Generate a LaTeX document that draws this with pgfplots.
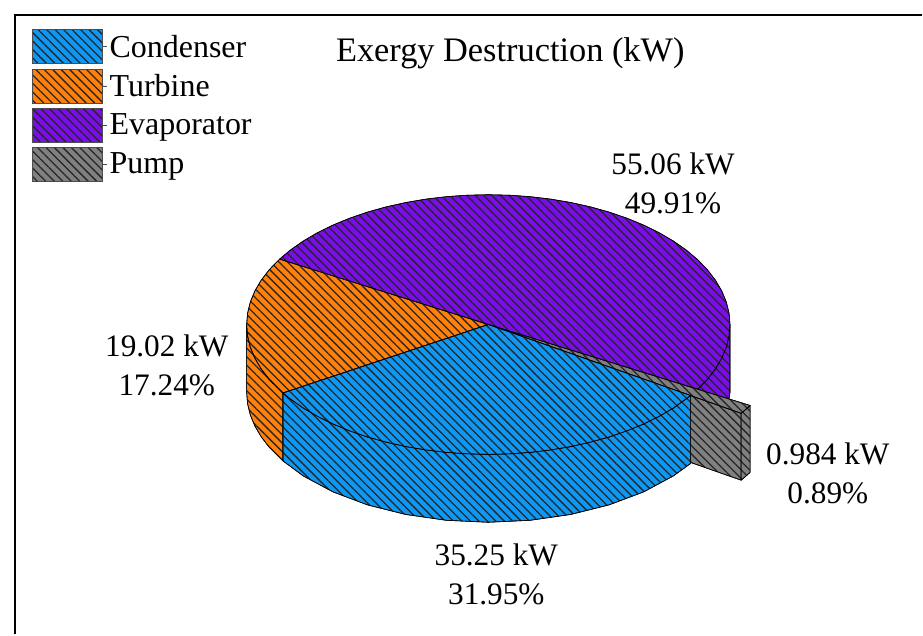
\documentclass[border=0pt]{standalone}
\usepackage{pgfplots}
\pgfplotsset{compat=1.18}
\usepackage{fontspec}
\setmainfont{Liberation Serif}
\usetikzlibrary{patterns.meta}

\definecolor{condenser}{RGB}{14,152,245}
\definecolor{turbine}{RGB}{255,128,10}
\definecolor{evaporator}{RGB}{122,14,232}
\definecolor{pump}{RGB}{128,128,128}

% Oblique projection of the disc: angle a runs clockwise from east,
% r is the radius as a share of the disc radius, d the drop below the top face.
\pgfplotsset{
  table/pie/.style={
    x expr={489+242*\thisrow{r}*cos(\thisrow{a})},
    y expr={325+130*\thisrow{r}*sin(\thisrow{a})+\thisrow{d}},
  },
  hatched/.style={
    draw=black, line width=0.6pt, line join=round,
    fill=#1, no markers, forget plot,
    postaction={pattern={Lines[angle=-45,distance=6pt,line width=1.3pt]},pattern color=black!85},
  },
  swatch/.style={
    draw=black!70, line width=0.8pt, fill=#1,
    postaction={pattern={Lines[angle=-45,distance=6pt,line width=1.3pt]},pattern color=black!85},
  },
}

\begin{document}
\begin{tikzpicture}
\begin{axis}[
  scale only axis, width=923pt, height=635pt,
  xmin=0, xmax=923, ymin=0, ymax=635, y dir=reverse,
  hide axis, clip=false,
  legend image code/.code={
    \path (0pt,0pt) -- (75pt,0pt);
    \draw[#1] (0pt,-17pt) rectangle (70pt,17pt);
  },
  legend cell align=left,
  legend style={
    at={(axis cs:32,29.5)}, anchor=north west,
    draw=none, fill=none, font=\fontsize{32}{33}\selectfont,
    row sep=4.4pt, inner sep=0pt, outer sep=0pt,
  },
]

% Page extent
\path (axis cs:0,0) rectangle (axis cs:923,635);

% Frame: left and top rules only
\addplot[black, line width=2.6pt, forget plot, line join=miter] coordinates {
  (15,635) (15,15) (923,15)
};

\addlegendimage{swatch=condenser}
\addlegendentry{Condenser}
\addlegendimage{swatch=turbine}
\addlegendentry{Turbine}
\addlegendimage{swatch=evaporator}
\addlegendentry{Evaporator}
\addlegendimage{swatch=pump}
\addlegendentry{Pump}

% Evaporator: outer wall, then top face
\addplot[hatched=evaporator] table[pie] {
a r d
0 1 0
10 1 0
20 1 0
29.92 1 0
29.92 1 68
20 1 68
10 1 68
0 1 68
0 1 0
};
\addplot[hatched=evaporator] table[pie] {
a r d
0 0 0
210.24 1 0
215 1 0
220 1 0
225 1 0
230 1 0
235 1 0
240 1 0
245 1 0
250 1 0
255 1 0
260 1 0
265 1 0
270 1 0
275 1 0
280 1 0
285 1 0
290 1 0
295 1 0
300 1 0
305 1 0
310 1 0
315 1 0
320 1 0
325 1 0
330 1 0
335 1 0
340 1 0
345 1 0
350 1 0
355 1 0
360 1 0
365 1 0
370 1 0
375 1 0
380 1 0
385 1 0
389.92 1 0
0 0 0
};

% Turbine: outer wall, then top face
\addplot[hatched=turbine] table[pie] {
a r d
148.18 1 0
155 1 0
160 1 0
165 1 0
170 1 0
175 1 0
180 1 0
180 1 68
175 1 68
170 1 68
165 1 68
160 1 68
155 1 68
148.18 1 68
148.18 1 0
};
\addplot[hatched=turbine] table[pie] {
a r d
0 0 0
148.18 1 0
155 1 0
160 1 0
165 1 0
170 1 0
175 1 0
180 1 0
185 1 0
190 1 0
195 1 0
200 1 0
205 1 0
210.24 1 0
0 0 0
};

% Pump: the wedge stands out past the rim, at 1.25 of the radius
\addplot[hatched=pump] table[pie] {
a r d
33.16 0 0
33.16 1.25 0
33.16 1.25 67
33.16 0 67
33.16 0 0
};
\addplot[hatched=pump] table[pie] {
a r d
29.92 1.25 0
33.16 1.25 0
33.16 1.25 67
29.92 1.25 67
29.92 1.25 0
};
\addplot[hatched=pump] table[pie] {
a r d
0 0 0
29.92 1.25 0
33.16 1.25 0
0 0 0
};

% Condenser: outer wall, then top face
\addplot[hatched=condenser] table[pie] {
a r d
33.16 1 0
40 1 0
50 1 0
60 1 0
70 1 0
80 1 0
90 1 0
100 1 0
110 1 0
120 1 0
130 1 0
140 1 0
148.18 1 0
148.18 1 68
140 1 68
130 1 68
120 1 68
110 1 68
100 1 68
90 1 68
80 1 68
70 1 68
60 1 68
50 1 68
40 1 68
33.16 1 68
33.16 1 0
};
\addplot[hatched=condenser] table[pie] {
a r d
0 0 0
33.16 1 0
40 1 0
45 1 0
50 1 0
55 1 0
60 1 0
65 1 0
70 1 0
75 1 0
80 1 0
85 1 0
90 1 0
95 1 0
100 1 0
105 1 0
110 1 0
115 1 0
120 1 0
125 1 0
130 1 0
135 1 0
140 1 0
145 1 0
148.18 1 0
0 0 0
};

% Title and slice labels
\begin{scope}[every node/.style={font=\fontsize{31.3}{39}\selectfont, align=center, text=black, inner sep=0pt}]
\node[font=\fontsize{34.4}{39}\selectfont] at (axis cs:511,53) {Exergy Destruction (kW)};
\node at (axis cs:674,184) {55.06 kW\\49.91\%};
\node at (axis cs:167,365.5) {19.02 kW\\17.24\%};
\node at (axis cs:829,474.5) {0.984 kW\\0.89\%};
\node at (axis cs:497,575.5) {35.25 kW\\31.95\%};
\end{scope}

\end{axis}
\end{tikzpicture}
\end{document}
